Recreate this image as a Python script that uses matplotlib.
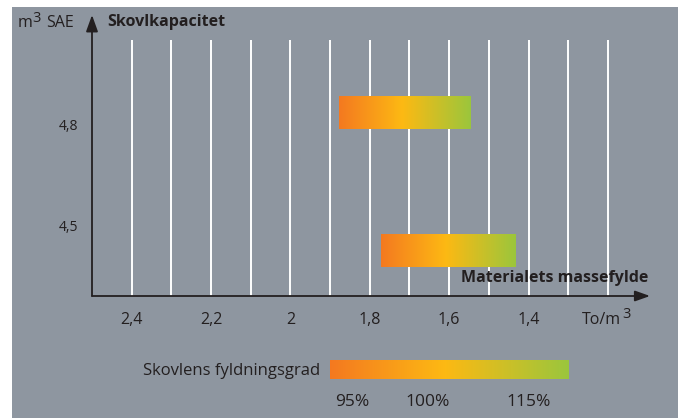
import matplotlib.pyplot as plt
import numpy as np
from matplotlib.colors import LinearSegmentedColormap
from matplotlib.patches import Rectangle

plt.rcParams['font.family'] = ['Open Sans', 'DejaVu Sans']

# data
capacity_labels = ['4,8', '4,5']
capacity_ticks = [4.8, 4.5]
bar_y = [4.84, 4.43]          # bar centres on the capacity axis
bar_from = [1.877, 1.772]     # density at 95% fill (to/m3)
bar_to = [1.545, 1.432]       # density at 115% fill (to/m3)
density_ticks = [2.4, 2.2, 2.0, 1.8, 1.6, 1.4]
density_labels = ['2,4', '2,2', '2', '1,8', '1,6', '1,4']
grid_x = np.round(np.arange(2.4, 1.15, -0.1), 2)
fill_labels = ['95%', '100%', '115%']
fill_pos = [0.092, 0.41, 0.833]

W, H = 678, 418
bg = '#8e96a0'
ink = '#231f20'
cmap = LinearSegmentedColormap.from_list(
    'fill', [(0, '#f47920'), (0.48, '#fdb913'), (1, '#9bc63c')])
grad = np.linspace(0, 1, 256).reshape(1, -1)

fig = plt.figure(figsize=(W / 100, H / 100), dpi=100, facecolor='white')
fig.patches.append(Rectangle((12 / W, 0), 1, 1 - 7 / H, transform=fig.transFigure,
                             facecolor=bg, edgecolor='none', zorder=-1))


def fx(px):
    return px / W


def fy(py):
    return 1 - py / H


ax = fig.add_axes([fx(92), fy(296), fx(650) - fx(92), fy(15) - fy(296)])
ax.set_facecolor('none')
for s in ax.spines.values():
    s.set_visible(False)
ax.set_xticks([])
ax.set_yticks([])

xlim = (2.5, 1.094)
ylim = (4.295, 5.13)

# white vertical gridlines
ax.vlines(grid_x, ylim[0], 5.055, color='white', lw=1.4, zorder=1)

# gradient bars
h = 0.096
for y, a, b in zip(bar_y, bar_from, bar_to):
    ax.imshow(grad, cmap=cmap, aspect='auto', extent=(a, b, y - h / 2, y + h / 2),
              zorder=2, interpolation='bilinear')

ax.set_xlim(*xlim)
ax.set_ylim(*ylim)

# axes with arrows
ax.annotate('', xy=(xlim[1], ylim[0]), xytext=(xlim[0], ylim[0]),
            arrowprops=dict(arrowstyle='-|>,head_length=0.9,head_width=0.32',
                            color=ink, lw=1.3, shrinkA=0, shrinkB=0), zorder=3)
ax.annotate('', xy=(xlim[0], ylim[1]), xytext=(xlim[0], ylim[0]),
            arrowprops=dict(arrowstyle='-|>,head_length=1.0,head_width=0.36',
                            color=ink, lw=1.3, shrinkA=0, shrinkB=0), zorder=3)

# tick labels
for v, lab in zip(density_ticks, density_labels):
    ax.text(v, ylim[0] - 0.072, lab, ha='center', va='center', fontsize=11.5, color=ink)
for v, lab in zip(capacity_ticks, capacity_labels):
    ax.text(2.5 + 0.035, v, lab, ha='right', va='center', fontsize=10, color=ink)

# unit labels with raised 3
fig.text(fx(18), fy(23), 'm', ha='left', va='center', fontsize=11.5, color=ink)
fig.text(fx(32), fy(19), '3', ha='left', va='center', fontsize=10.5, color=ink)
fig.text(fx(46), fy(23), 'SAE', ha='left', va='center', fontsize=11.5, color=ink)
fig.text(fx(107), fy(22), 'Skovlkapacitet', ha='left', va='center', fontsize=11.5,
         fontweight='bold', color=ink)
fig.text(fx(648), fy(278), 'Materialets massefylde', ha='right', va='center',
         fontsize=11.5, fontweight='bold', color=ink)
fig.text(fx(582), fy(320), 'To/m', ha='left', va='center', fontsize=11.5, color=ink)
fig.text(fx(622), fy(315), '3', ha='left', va='center', fontsize=10.5, color=ink)

# fill-degree legend
lax = fig.add_axes([fx(330), fy(379), fx(569) - fx(330), fy(360) - fy(379)])
lax.imshow(grad, cmap=cmap, aspect='auto', extent=(0, 1, 0, 1), interpolation='bilinear')
lax.axis('off')
fig.text(fx(320), fy(371), 'Skovlens fyldningsgrad', ha='right', va='center',
         fontsize=12, color=ink)
for p, lab in zip(fill_pos, fill_labels):
    fig.text(fx(330 + p * 239), fy(402), lab, ha='center', va='center',
             fontsize=12.5, color=ink)

fig.savefig('out.png', dpi=100, facecolor='white')
